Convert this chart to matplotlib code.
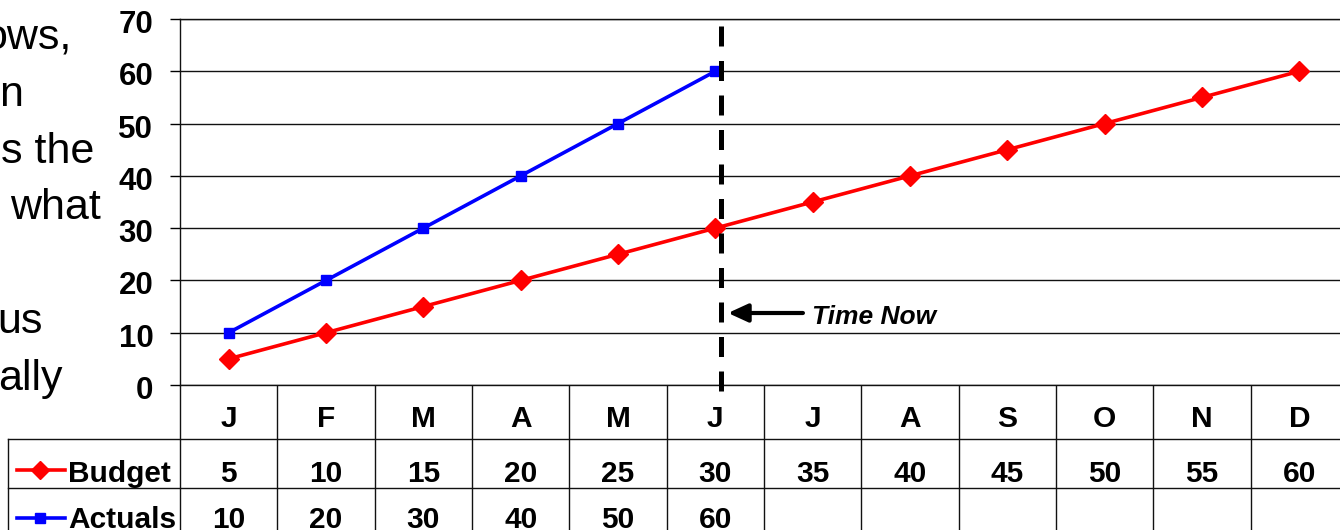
import matplotlib
matplotlib.use("Agg")
import matplotlib.pyplot as plt
import matplotlib.transforms as mtransforms
from matplotlib.lines import Line2D

plt.rcParams['font.family'] = ['Liberation Sans', 'DejaVu Sans']

# ---------------- data ----------------
months = ["J", "F", "M", "A", "M", "J", "J", "A", "S", "O", "N", "D"]
budget = [5, 10, 15, 20, 25, 30, 35, 40, 45, 50, 55, 60]
actuals = [10, 20, 30, 40, 50, 60]
yticks = [0, 10, 20, 30, 40, 50, 60, 70]
time_now_x = 5.06          # position of the "Time Now" marker (just after June)
slide_lines = ["ows,", "n", "s the", "what", "", "us", "ally"]
slide_right = [72, 23, 94, 101, 0, 43, 63]   # right edge (px) of each cut-off slide line

W, H = 1340, 530
fig = plt.figure(figsize=(W / 100, H / 100), dpi=100)
fig.patch.set_facecolor("white")

def fx(px):
    return px / W

def fy(py):
    return 1 - py / H

# ---------------- slide text behind the chart ----------------
for i, (t, r) in enumerate(zip(slide_lines, slide_right)):
    if t:
        fig.text(fx(r), fy(49 + 56.8 * i), t, ha="right", va="baseline",
                 fontsize=31, color="black")

# ---------------- axes ----------------
ax_left, ax_right, ax_top, ax_bot = 180, 1348, 19, 385
ax = fig.add_axes([fx(ax_left), fy(ax_bot), (ax_right - ax_left) / W, (ax_bot - ax_top) / H])
ax.set_facecolor("white")
ax.set_xlim(-0.5, len(months) - 0.5)
ax.set_ylim(0, 70)
ax.set_xticks([])
ax.set_yticks(yticks)
ax.yaxis.grid(True, color="#111111", linewidth=1.0)
ax.set_axisbelow(True)
ax.spines["right"].set_visible(False)
for s in ["left", "bottom", "top"]:
    ax.spines[s].set_color("#111111")
    ax.spines[s].set_linewidth(1.0)
ax.tick_params(axis="y", direction="out", length=7.2, width=1.0, pad=12,
               labelsize=22.5, colors="black")
offset = mtransforms.ScaledTranslation(0, -2.5 / 100, fig.dpi_scale_trans)
for lab in ax.get_yticklabels():
    lab.set_fontweight("bold")
    lab.set_transform(lab.get_transform() + offset)

x_all = list(range(len(months)))
ax.plot(x_all[:len(budget)], budget, color="#FF0000", lw=2.6, marker="D",
        markersize=10, markeredgecolor="#FF0000", zorder=3, clip_on=False)
ax.plot(x_all[:len(actuals)], actuals, color="#0000FF", lw=2.6, marker="s",
        markersize=7.2, markeredgecolor="#0000FF", zorder=3, clip_on=False)

# Time Now dashed line
ax.plot([time_now_x, time_now_x], [-6 / 366 * 70, 70], color="black", lw=3.6,
        linestyle=(0, (4, 2.9)), dash_capstyle="butt", clip_on=False, zorder=4)
ax.annotate("", xy=(5.13, 13.77), xytext=(5.9, 13.77),
            arrowprops=dict(arrowstyle="-|>,head_length=1.2,head_width=0.55",
                            color="black", lw=3.0, shrinkA=0, shrinkB=0))
ax.text(5.99, 11.67, "Time Now", fontsize=19, fontweight="bold", fontstyle="italic",
        ha="left", va="baseline")

# ---------------- data table ----------------
bt = mtransforms.blended_transform_factory(ax.transData, fig.transFigure)
lc = "#111111"
row_top, row1, row2 = 386, 439, 488
for i in range(len(months) + 1):
    fig.add_artist(Line2D([i - 0.5, i - 0.5], [fy(row_top), fy(H + 5)], color=lc,
                          lw=1.0, transform=bt))
for py in [row1, row2]:
    fig.add_artist(Line2D([fx(8), fx(W + 10)], [fy(py), fy(py)], color=lc, lw=1.0,
                          transform=fig.transFigure))
fig.add_artist(Line2D([fx(8), fx(8)], [fy(row1), fy(H + 5)], color=lc, lw=1.0,
                      transform=fig.transFigure))

tsize = 21.5
for i, m in enumerate(months):
    fig.text(i, fy(427), m, transform=bt, ha="center", va="baseline",
             fontsize=tsize, fontweight="bold")
for i, v in enumerate(budget):
    fig.text(i, fy(482), str(v), transform=bt, ha="center", va="baseline",
             fontsize=tsize, fontweight="bold")
for i, v in enumerate(actuals):
    fig.text(i, fy(528), str(v), transform=bt, ha="center", va="baseline",
             fontsize=tsize, fontweight="bold")

# legend keys inside table
fig.add_artist(Line2D([fx(17), fx(65)], [fy(470), fy(470)], color="#FF0000", lw=2.6,
                      transform=fig.transFigure))
fig.add_artist(Line2D([fx(40)], [fy(470)], color="#FF0000", marker="D", markersize=9.5,
                      transform=fig.transFigure))
fig.add_artist(Line2D([fx(17), fx(65)], [fy(518), fy(518)], color="#0000FF", lw=2.6,
                      transform=fig.transFigure))
fig.add_artist(Line2D([fx(40)], [fy(518)], color="#0000FF", marker="s", markersize=6.8,
                      transform=fig.transFigure))
fig.text(fx(68), fy(482), "Budget", ha="left", va="baseline", fontsize=tsize,
         fontweight="bold")
fig.text(fx(68), fy(528), "Actuals", ha="left", va="baseline", fontsize=tsize,
         fontweight="bold")

fig.savefig("out.png", dpi=100)
